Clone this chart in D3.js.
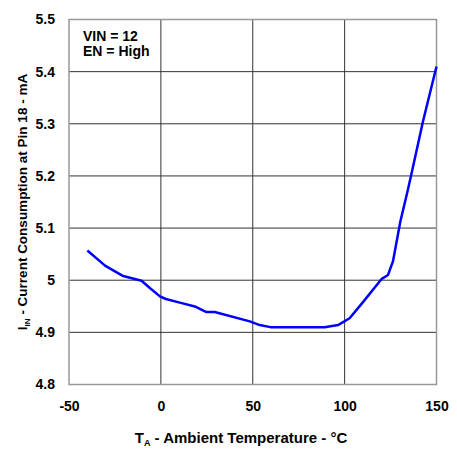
<!DOCTYPE html>
<html><head><meta charset="utf-8">
<script src="https://cdn.jsdelivr.net/npm/d3@7"></script>
<style>body{margin:0;background:#fff}svg{display:block}text{font-family:"Liberation Sans",Arial,sans-serif;font-weight:bold;fill:#000}</style>
</head><body>
<svg id="c" width="457" height="453"></svg>
<script>
const temps = [-40,-30.4,-20.5,-10.5,-6,-0.5,2.7,10.3,19,24.8,29.3,48.4,53.8,59.6,89.1,96.4,102.7,110,120,123.6,126.3,130.3,134.4,136.8,142.6,150];
const current = [5.057,5.028,5.008,4.999,4.985,4.969,4.964,4.957,4.949,4.939,4.939,4.921,4.914,4.91,4.91,4.914,4.927,4.958,5.002,5.010,5.036,5.112,5.173,5.211,5.304,5.41];
const xTicks = [-50,0,50,100,150];
const xTickLabels = ["-50","0","50","100","150"];
const yTicks = [4.8,4.9,5.0,5.1,5.2,5.3,5.4,5.5];
const yTickLabels = ["4.8","4.9","5","5.1","5.2","5.3","5.4","5.5"];
const notes = ["VIN = 12","EN = High"];

const svg = d3.select("#c");
const L=69,R=436.5,T=19.5,B=384.5;
const x = d3.scaleLinear().domain([-50,150]).range([L,R]);
const y = d3.scaleLinear().domain([4.8,5.5]).range([B,T]);
const FF = "Liberation Sans, Arial, sans-serif";

// grid
svg.append("g").selectAll("line").data(xTicks.slice(1,-1)).join("line")
 .attr("x1",d=>x(d)).attr("x2",d=>x(d)).attr("y1",T).attr("y2",B)
 .attr("stroke","#333").attr("stroke-width",1);
svg.append("g").selectAll("line").data(yTicks.slice(1,-1)).join("line")
 .attr("x1",L).attr("x2",R).attr("y1",d=>y(d)).attr("y2",d=>y(d))
 .attr("stroke","#333").attr("stroke-width",1);
svg.append("rect").attr("x",L).attr("y",T).attr("width",R-L).attr("height",B-T)
 .attr("fill","none").attr("stroke","#999").attr("stroke-width",1.5);

// axes labels
const xa = d3.axisBottom(x).tickValues(xTicks).tickFormat((d,i)=>xTickLabels[i]).tickSize(0).tickPadding(0);
const gx = svg.append("g").attr("transform",`translate(0,${B})`).call(xa);
gx.select(".domain").remove();
gx.selectAll("text").attr("y",26).attr("dy",0).style("font-size","14px").style("font-family",FF).style("font-weight","bold").style("fill","#000");
const ya = d3.axisLeft(y).tickValues(yTicks).tickFormat((d,i)=>yTickLabels[i]).tickSize(0).tickPadding(14);
const gy = svg.append("g").attr("transform",`translate(${L},0)`).call(ya);
gy.select(".domain").remove();
gy.selectAll("text").style("font-size","14px").style("font-family",FF).style("font-weight","bold").style("fill","#000");

// line
svg.append("path").datum(temps.map((t,i)=>[t,current[i]]))
 .attr("d",d3.line().x(d=>x(d[0])).y(d=>y(d[1])))
 .attr("fill","none").attr("stroke","#0000ff").attr("stroke-width",2.5).attr("stroke-linejoin","round");

// notes
svg.append("g").selectAll("text").data(notes).join("text")
 .attr("x",83).attr("y",(d,i)=>41+i*15).style("font-size","14px").text(d=>d);

// x title
const xt = svg.append("text").attr("x",241).attr("y",443).attr("text-anchor","middle").style("font-size","15px");
xt.append("tspan").text("T");
xt.append("tspan").attr("font-size","9px").attr("dy",3).text("A");
xt.append("tspan").attr("dy",-3).text(" - Ambient Temperature - °C");

// y title
const yt = svg.append("text").attr("transform",`translate(27,${(T+B)/2}) rotate(-90)`).attr("text-anchor","middle").style("font-size","13.5px");
yt.append("tspan").text("I");
yt.append("tspan").attr("font-size","8px").attr("dy",3).text("IN");
yt.append("tspan").attr("dy",-3).text(" - Current Consumption at Pin 18 - mA");
</script>
</body></html>
